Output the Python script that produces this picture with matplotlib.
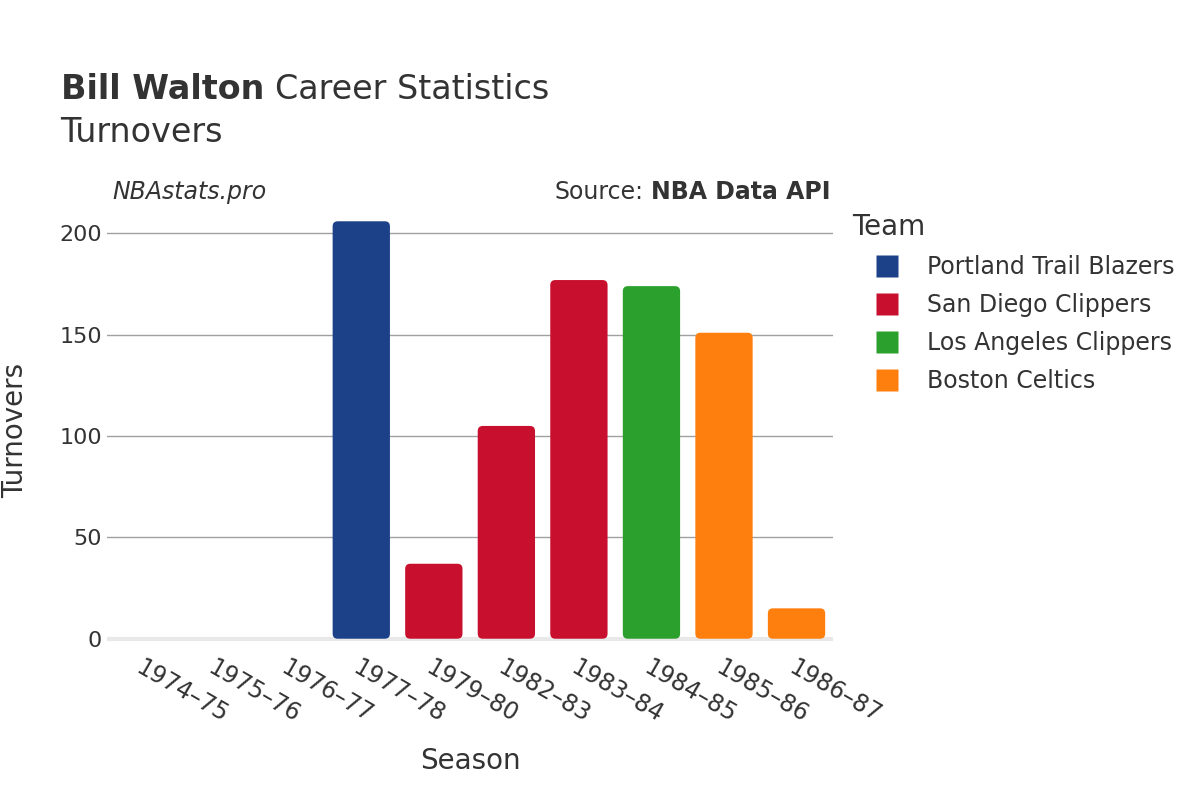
import matplotlib.pyplot as plt
from matplotlib.patches import FancyBboxPatch
from matplotlib.lines import Line2D

seasons = ['1974–75', '1975–76', '1976–77', '1977–78', '1979–80',
           '1982–83', '1983–84', '1984–85', '1985–86', '1986–87']
turnovers = [0, 0, 0, 206, 37, 105, 177, 174, 151, 15]
teams = ['Portland Trail Blazers', 'Portland Trail Blazers', 'Portland Trail Blazers',
         'Portland Trail Blazers', 'San Diego Clippers', 'San Diego Clippers',
         'San Diego Clippers', 'Los Angeles Clippers', 'Boston Celtics', 'Boston Celtics']
team_names = ['Portland Trail Blazers', 'San Diego Clippers', 'Los Angeles Clippers', 'Boston Celtics']
team_colors = {'Portland Trail Blazers': '#1c4189', 'San Diego Clippers': '#c8102e',
               'Los Angeles Clippers': '#2ca02c', 'Boston Celtics': '#ff7f0e'}

plt.rcParams['font.family'] = ['DejaVu Sans']
text_col = '#333333'

fig = plt.figure(figsize=(12, 8), dpi=100)
ax = fig.add_axes([0.0895, 0.194, 0.6045, 0.537])

x = list(range(len(seasons)))
ax.set_xlim(-0.5, len(seasons) - 0.5)
ax.set_ylim(-3, 209)

bars = ax.bar(x, turnovers, width=0.79, color=[team_colors[t] for t in teams], zorder=3)
# swap plain bars for slightly rounded ones
px_x = 0.6045 * 1200 / 10.0
px_y = 0.537 * 800 / 212.0
for b in bars:
    b.set_visible(False)
    if b.get_height() <= 0:
        continue
    p = FancyBboxPatch((b.get_x(), b.get_y()), b.get_width(), b.get_height(),
                       boxstyle='round,pad=0,rounding_size=0.07',
                       mutation_aspect=px_x / px_y,
                       facecolor=b.get_facecolor(), edgecolor='none', zorder=3)
    ax.add_patch(p)

ax.set_yticks([0, 50, 100, 150, 200])
ax.yaxis.grid(True, color='#a0a0a0', linewidth=1)
ax.axhline(0, color='#e8e8e8', linewidth=3, zorder=2)
for s in ax.spines.values():
    s.set_visible(False)
ax.tick_params(axis='y', length=0, labelsize=16, labelcolor=text_col, pad=4)
ax.set_xticks(x)
ax.set_xticklabels(seasons, rotation=-30, ha='left', rotation_mode='anchor')
ax.tick_params(axis='x', length=0, labelsize=17, colors=text_col, pad=8)

ax.set_xlabel('Season', fontsize=20, color=text_col, labelpad=14)
ax.set_ylabel('Turnovers', fontsize=20, color=text_col)
ax.yaxis.set_label_coords(-0.108, 0.5)

fig.canvas.draw()
r = fig.canvas.get_renderer()

t1 = fig.text(0.051, 0.888, 'Bill Walton', fontsize=24, color=text_col, weight='bold', va='center')
bb = t1.get_window_extent(r)
fig.text(bb.x1 / 1200 + 0.009, 0.888, 'Career Statistics', fontsize=24, color=text_col, va='center')
fig.text(0.05, 0.834, 'Turnovers', fontsize=24, color=text_col, va='center')

fig.text(0.094, 0.76, 'NBAstats.pro', fontsize=17, color=text_col, style='italic', va='center')
t2 = fig.text(0.692, 0.76, 'NBA Data API', fontsize=17, color=text_col, weight='bold', va='center', ha='right')
bb2 = t2.get_window_extent(r)
fig.text(bb2.x0 / 1200 - 0.006, 0.76, 'Source:', fontsize=17, color=text_col, va='center', ha='right')

handles = [Line2D([0], [0], marker='s', linestyle='none', markersize=16,
                  markerfacecolor=team_colors[t], markeredgecolor='none') for t in team_names]
leg = fig.legend(handles, team_names, title='Team', loc='upper left',
                 bbox_to_anchor=(0.702, 0.746), frameon=False, fontsize=17,
                 title_fontsize=20, handletextpad=0.22, labelspacing=0.6,
                 handlelength=2.96, borderaxespad=0)
leg._legend_box.align = 'left'
for t in leg.get_texts():
    t.set_color(text_col)
leg.get_title().set_color(text_col)

fig.savefig('out.png')
